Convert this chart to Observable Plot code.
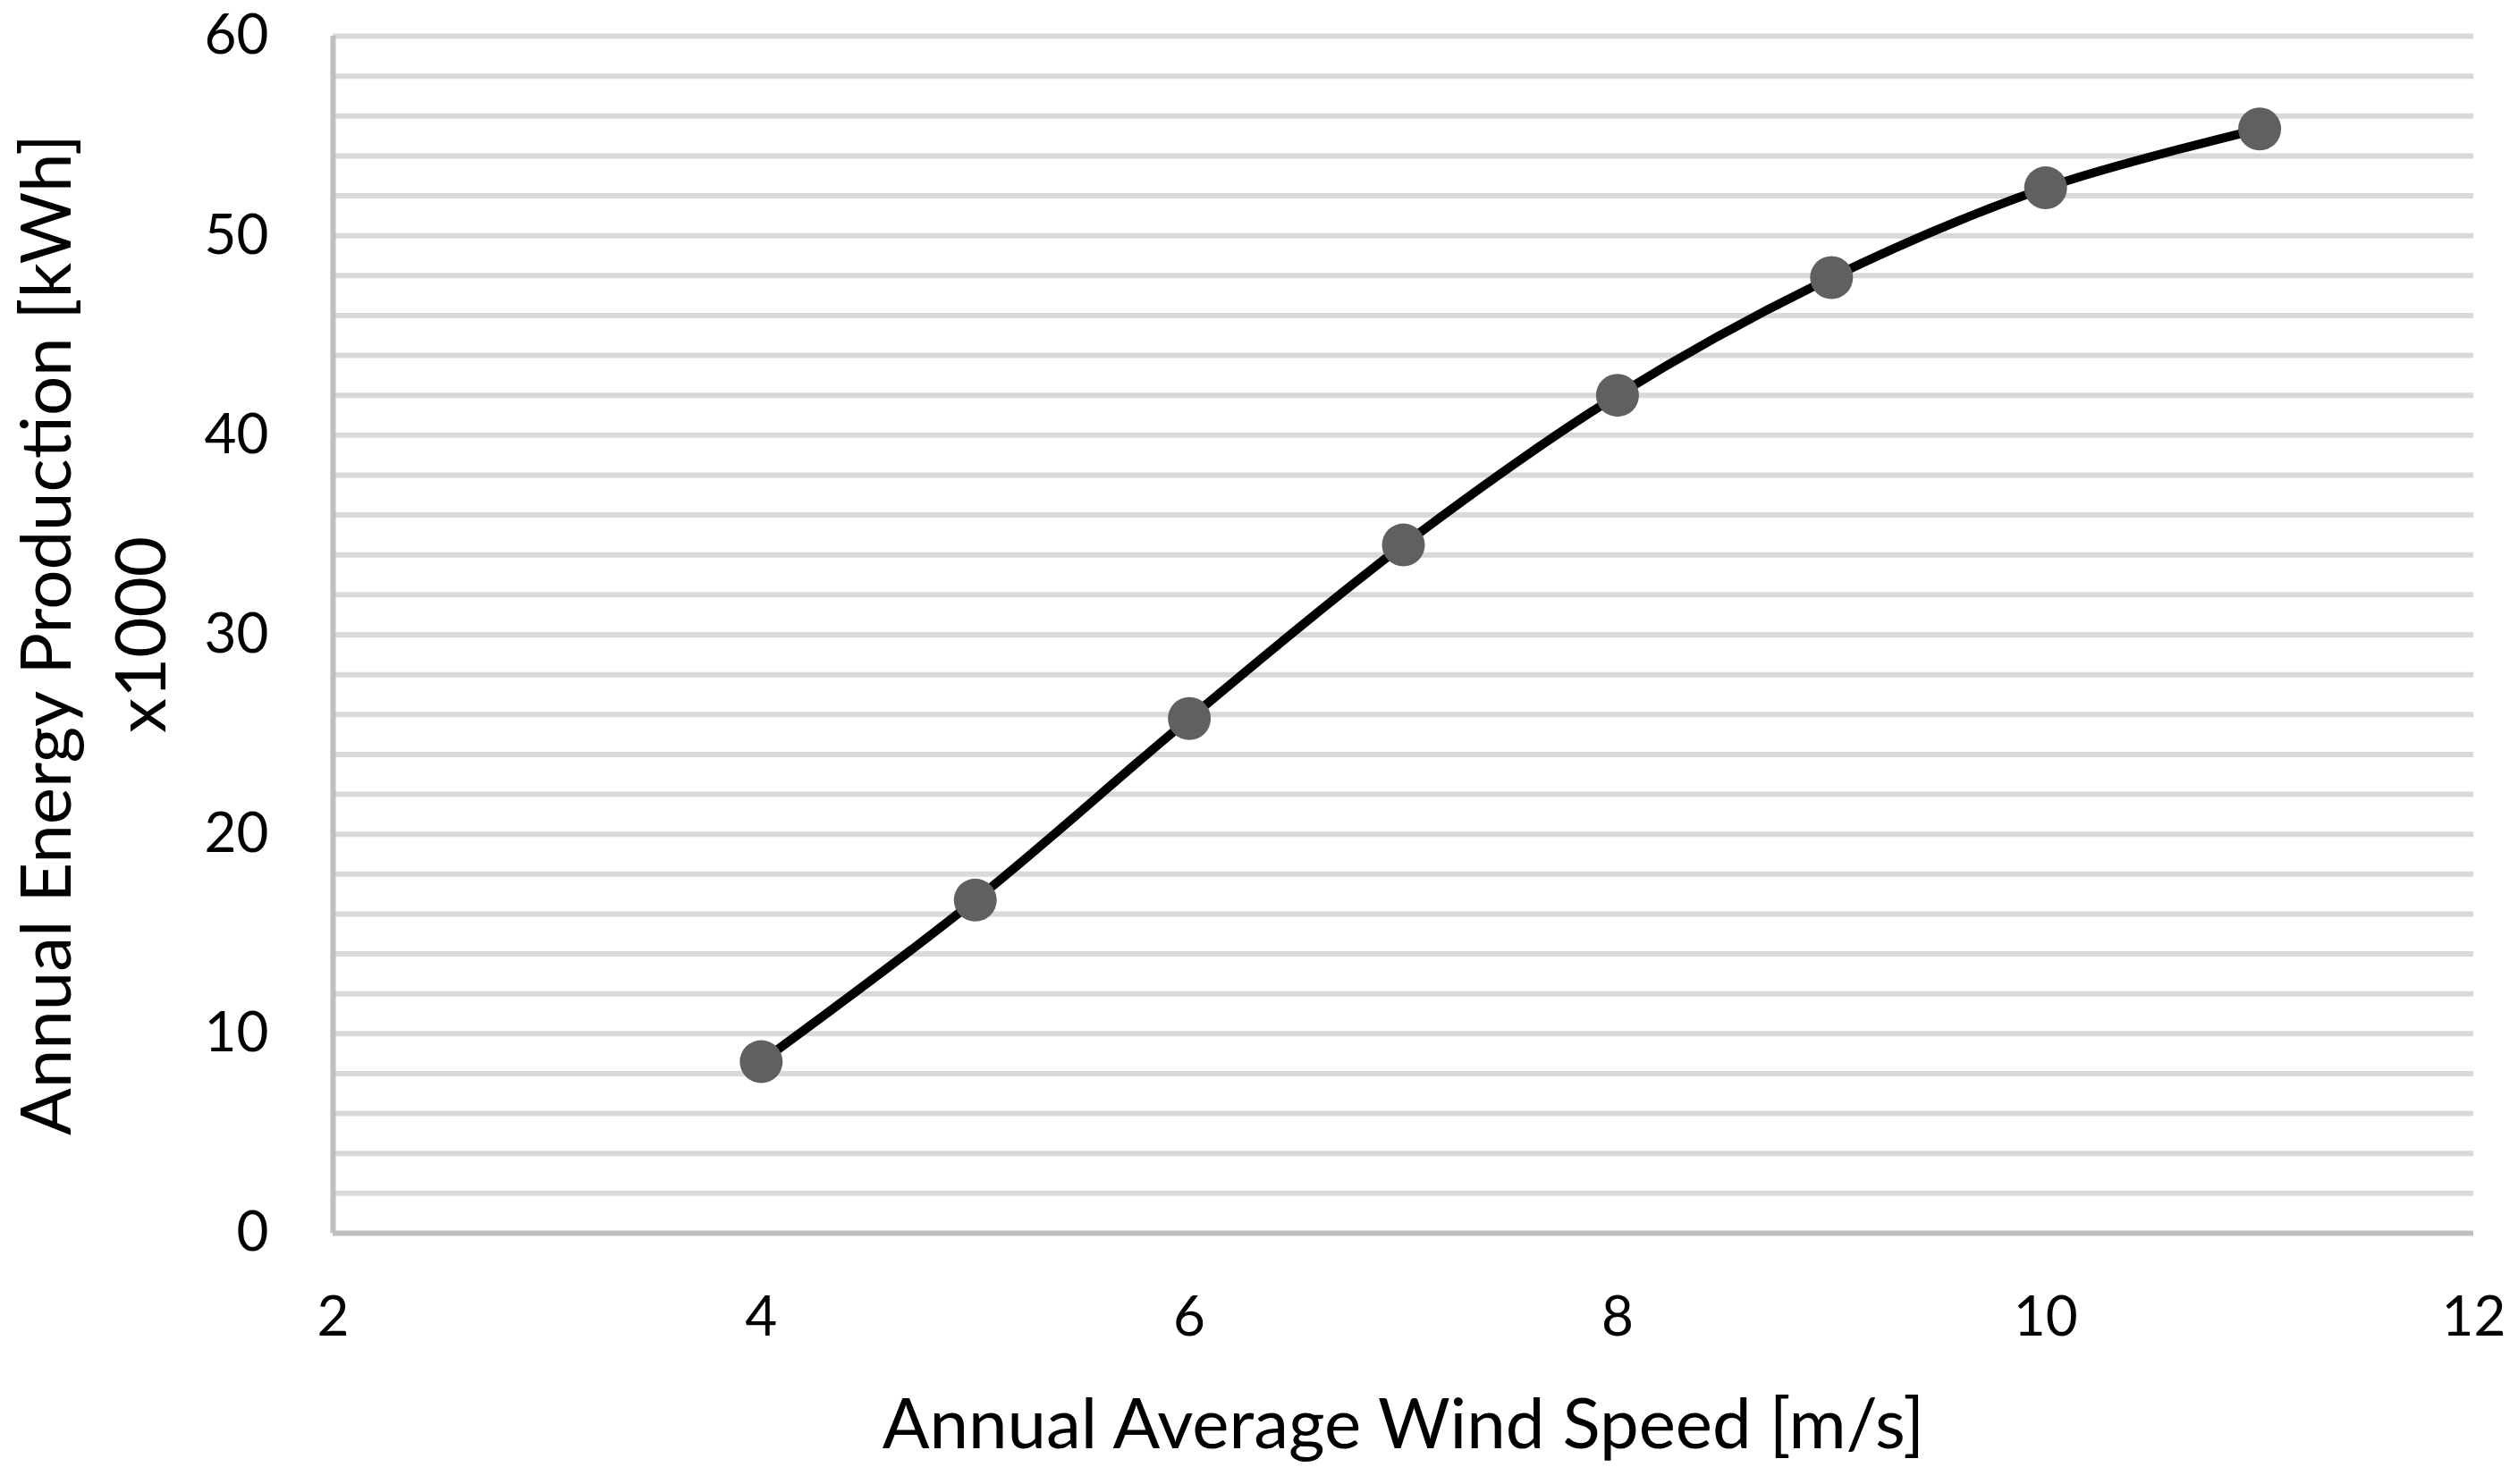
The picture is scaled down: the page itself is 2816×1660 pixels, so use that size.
<!DOCTYPE html>
<html>
<head>
<meta charset="utf-8">
<script src="https://cdn.jsdelivr.net/npm/d3@7"></script>
<script src="https://cdn.jsdelivr.net/npm/@observablehq/plot@0.6"></script>
<style>
  html, body { margin: 0; padding: 0; background: #ffffff; }
  #chart svg { display: block; }
</style>
</head>
<body>
<div id="chart"></div>
<script>
const windSpeed = [4, 5, 6, 7, 8, 9, 10, 11];
const energyProduction = [8.6, 16.7, 25.8, 34.5, 42.0, 47.9, 52.4, 55.35];
const xTicks = [2, 4, 6, 8, 10, 12];
const yTicks = [0, 10, 20, 30, 40, 50, 60];
const gridValues = d3.range(2, 61, 2);
const xTitle = "Annual Average Wind Speed [m/s]";
const yTitleLine1 = "Annual Energy Production [kWh]";
const yTitleLine2 = "x1000";

const data = windSpeed.map((s, i) => ({speed: s, energy: energyProduction[i]}));
const font = "Lato, 'Noto Sans', sans-serif";

const chart = Plot.plot({
  width: 2816,
  height: 1660,
  marginLeft: 372,
  marginRight: 50,
  marginTop: 40,
  marginBottom: 281,
  style: {background: "#ffffff", fontFamily: font, color: "#000000"},
  x: {domain: [2, 12]},
  y: {domain: [0, 60]},
  marks: [
    Plot.ruleY(gridValues, {x1: 2, x2: 12, stroke: "#d9d9d9", strokeWidth: 6}),
    Plot.ruleY([0], {x1: 2, x2: 12, stroke: "#bfbfbf", strokeWidth: 6}),
    Plot.ruleX([2], {y1: 0, y2: 60, stroke: "#bfbfbf", strokeWidth: 6}),
    Plot.axisX({ticks: xTicks, tickSize: 0, tickPadding: 70, fontSize: 62, label: null, tickFormat: d => String(d)}),
    Plot.axisY({ticks: yTicks, tickSize: 0, tickPadding: 72, fontSize: 62, label: null, tickFormat: d => String(d)}),
    Plot.line(data, {x: "speed", y: "energy", stroke: "#000000", strokeWidth: 10, curve: "catmull-rom"}),
    Plot.dot(data, {x: "speed", y: "energy", r: 24, fill: "#606060", stroke: "none"}),
    Plot.text([xTitle], {frameAnchor: "bottom", dy: 240, fontSize: 78, fill: "#000000"}),
    Plot.text([yTitleLine1], {frameAnchor: "left", textAnchor: "middle", dx: -318, rotate: -90, fontSize: 78, fill: "#000000"}),
    Plot.text([yTitleLine2], {frameAnchor: "left", textAnchor: "middle", dx: -212, rotate: -90, fontSize: 78, fill: "#000000"})
  ]
});
document.getElementById("chart").appendChild(chart);
</script>
</body>
</html>
